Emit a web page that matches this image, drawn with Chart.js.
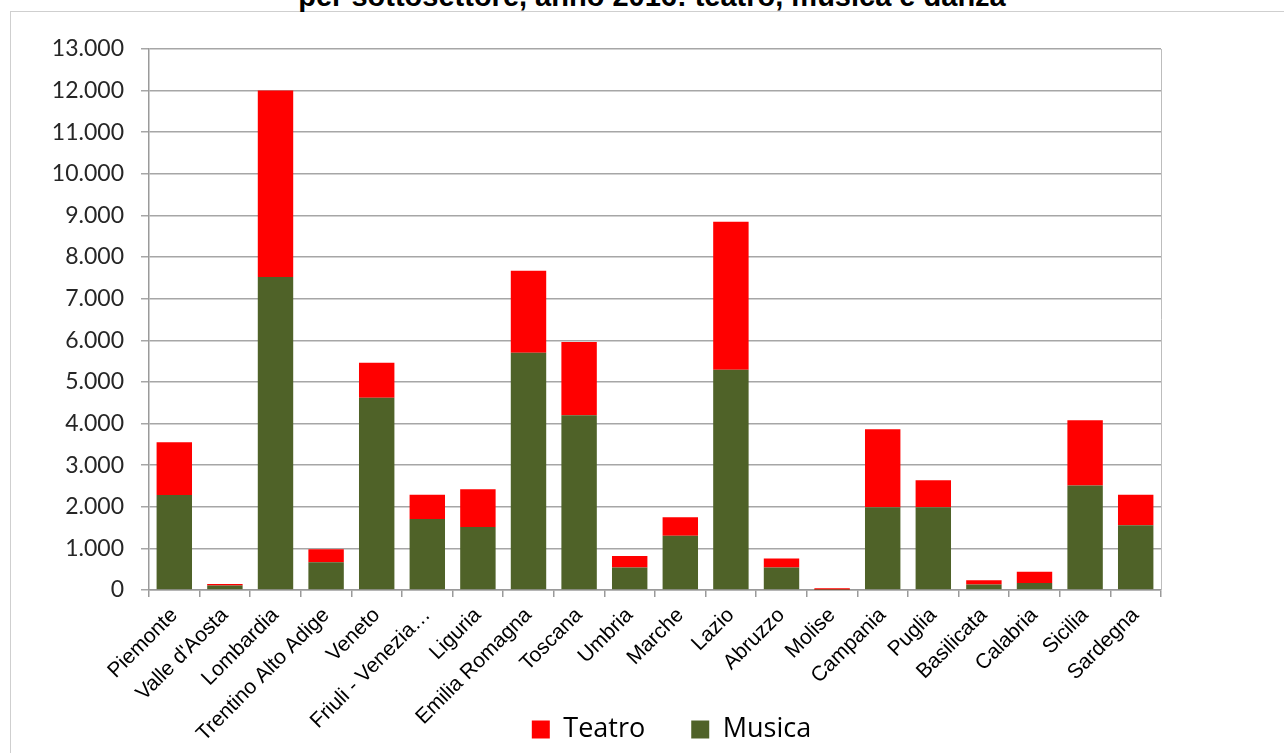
<!DOCTYPE html>
<html>
<head>
<meta charset="utf-8">
<script src="https://cdn.jsdelivr.net/npm/chart.js@4/dist/chart.umd.min.js"></script>
<style>
  html, body { margin: 0; padding: 0; background: #fff; overflow: hidden; }
  #wrap { position: relative; width: 1284px; height: 753px; }
  #frame { position: absolute; left: 10px; top: 11px; width: 1400px; height: 900px; border: 1px solid #cfcfcf; box-sizing: border-box; }
  #title { position: absolute; left: 0; width: 1304px; top: -18px; text-align: center; font: bold 29px "Liberation Sans", Arial, sans-serif; line-height: 29px; color: #000; white-space: nowrap; }
  canvas { position: absolute; left: 0; top: 0; }
</style>
</head>
<body>
<div id="wrap">
  <div id="frame"></div>
  <div id="title">per sottosettore, anno 2016: teatro, musica e danza</div>
  <canvas id="c" width="1284" height="753"></canvas>
</div>
<script>
const categories = ["Piemonte", "Valle d'Aosta", "Lombardia", "Trentino Alto Adige", "Veneto", "Friuli - Venezia…", "Liguria", "Emilia Romagna", "Toscana", "Umbria", "Marche", "Lazio", "Abruzzo", "Molise", "Campania", "Puglia", "Basilicata", "Calabria", "Sicilia", "Sardegna"];
const musica = [2280, 110, 7520, 665, 4620, 1705, 1515, 5700, 4200, 540, 1305, 5290, 540, 5, 1990, 1990, 135, 170, 2510, 1555];
const teatro = [1270, 35, 4480, 315, 840, 585, 905, 1970, 1760, 275, 445, 3560, 215, 35, 1870, 650, 100, 270, 1570, 735];
const yTicks = [0, 1000, 2000, 3000, 4000, 5000, 6000, 7000, 8000, 9000, 10000, 11000, 12000, 13000];

function fmt(v) { return String(v).replace(/\B(?=(\d{3})+(?!\d))/g, "."); }
function noLabelClip(scale) { scale._computeLabelArea = function () { return undefined; }; }

const rightBorder = {
  id: 'rightBorder',
  afterDraw(chart) {
    const a = chart.chartArea, ctx = chart.ctx;
    ctx.save();
    ctx.strokeStyle = '#bdbdbd';
    ctx.lineWidth = 1;
    ctx.beginPath();
    ctx.moveTo(Math.round(a.right) + 0.5, a.top);
    ctx.lineTo(Math.round(a.right) + 0.5, a.bottom);
    ctx.stroke();
    ctx.restore();
  }
};

new Chart(document.getElementById('c'), {
  type: 'bar',
  data: {
    labels: categories,
    datasets: [
      { label: 'Musica', data: musica, backgroundColor: '#4F6228', categoryPercentage: 1, barPercentage: 0.7 },
      { label: 'Teatro', data: teatro, backgroundColor: '#FF0000', categoryPercentage: 1, barPercentage: 0.7 }
    ]
  },
  options: {
    responsive: false,
    animation: false,
    layout: { padding: { top: 49, right: 0, bottom: 0, left: 59 } },
    plugins: {
      legend: {
        position: 'bottom',
        reverse: true,
        labels: {
          boxWidth: 18, boxHeight: 18, padding: 46,
          color: '#000',
          font: { family: 'Open Sans', size: 27 }
        }
      },
      tooltip: { enabled: false }
    },
    scales: {
      x: {
        stacked: true,
        offset: true,
        grid: { offset: true, drawOnChartArea: false, drawTicks: true, tickLength: 7, color: '#9a9a9a', lineWidth: 1.5 },
        border: { color: '#9a9a9a', width: 1.5 },
        ticks: {
          minRotation: 45, maxRotation: 45, autoSkip: false, padding: 6,
          color: '#000',
          font: { family: 'Liberation Sans', size: 21 }
        },
        afterFit(scale) { scale.height = 80; noLabelClip(scale); }
      },
      y: {
        stacked: true,
        min: 0, max: 13000,
        afterBuildTicks(scale) { scale.ticks = yTicks.map(v => ({ value: v })); },
        grid: { color: '#a6a6a6', lineWidth: 1.5, drawTicks: true, tickLength: 8 },
        border: { color: '#9a9a9a', width: 1.5 },
        ticks: {
          padding: 17,
          color: '#262626',
          font: { family: 'Lato', size: 23 },
          callback: (v) => fmt(v)
        },
        afterFit(scale) { scale.width = 90; noLabelClip(scale); }
      },
      yR: {
        position: 'right',
        display: true,
        grid: { display: false, drawTicks: false },
        border: { display: false },
        ticks: { display: false },
        afterFit(scale) { scale.width = 123; }
      }
    }
  },
  plugins: [rightBorder]
});
</script>
</body>
</html>
